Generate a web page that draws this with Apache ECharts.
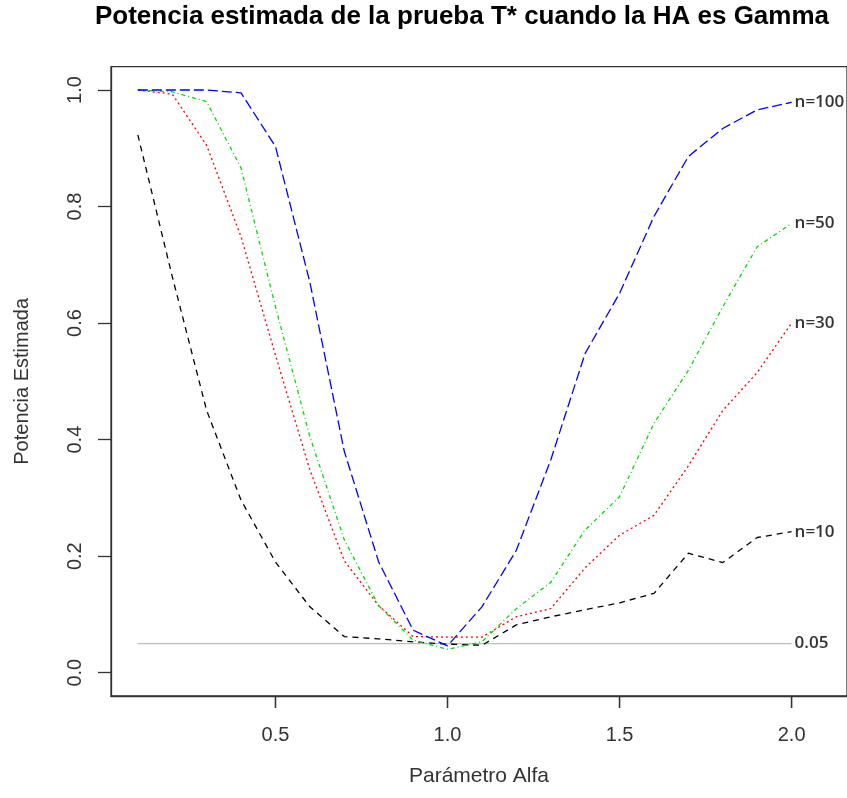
<!DOCTYPE html>
<html>
<head>
<meta charset="utf-8">
<script src="https://cdn.jsdelivr.net/npm/echarts@6/dist/echarts.min.js"></script>
<style>html,body{margin:0;padding:0;background:#fff}#c{width:847px;height:798px}</style>
</head>
<body>
<div id="c"></div>
<script>
const alpha = [0.1,0.2,0.3,0.4,0.5,0.6,0.7,0.8,0.9,1.0,1.1,1.2,1.3,1.4,1.5,1.6,1.7,1.8,1.9,2.0];
const n10  = [0.923,0.68,0.45,0.296,0.19,0.113,0.062,0.058,0.053,0.049,0.047,0.082,0.096,0.108,0.12,0.136,0.205,0.189,0.232,0.242];
const n30  = [1.0,0.993,0.905,0.748,0.545,0.348,0.192,0.115,0.062,0.061,0.061,0.096,0.11,0.18,0.236,0.27,0.355,0.45,0.515,0.60];
const n50  = [1.0,0.997,0.98,0.866,0.628,0.405,0.228,0.115,0.056,0.04,0.053,0.11,0.155,0.245,0.302,0.428,0.519,0.628,0.731,0.771];
const n100 = [1.0,1.0,1.0,0.995,0.903,0.67,0.38,0.19,0.073,0.046,0.113,0.21,0.365,0.548,0.651,0.783,0.886,0.934,0.966,0.979];
const refLevel = 0.05;
const xTicks = [0.5,1.0,1.5,2.0];
const yTicks = [0.0,0.2,0.4,0.6,0.8,1.0];
const seriesNames = ['n=10','n=30','n=50','n=100'];
const Y_MIN = -0.04, Y_MAX = 1.04;

const chart = echarts.init(document.getElementById('c'), null, {renderer:'canvas'});
const pairs = v => alpha.map((a,i)=>[a,v[i]]);
const lblFont = {fontFamily:'Open Sans', fontSize:17, fontWeight:600, color:'#333'};
function mk(name, vals, color, dash){
  return {
    name:name, type:'line', data:pairs(vals), symbol:'none', silent:true, animation:false,
    lineStyle:{color:color, width:1.3, type:dash},
    endLabel:{show:true, formatter:name, distance:3, ...lblFont}
  };
}
const option = {
  animation:false,
  grid:{left:111, top:66.7, bottom:102, right:-2, show:true, borderColor:'#333', borderWidth:1.3},
  xAxis:{
    type:'value', min:0.022, max:2.161,
    axisLine:{show:true, onZero:false, lineStyle:{color:'#333', width:1.3}},
    axisTick:{show:true, inside:false, length:12, lineStyle:{color:'#333', width:1.3}, customValues:xTicks},
    axisLabel:{show:true, margin:29, customValues:xTicks, formatter:v=>v.toFixed(1), fontFamily:'Liberation Sans', fontSize:20, color:'#333'},
    splitLine:{show:false},
    name:'Parámetro Alfa', nameLocation:'middle', nameGap:70,
    nameTextStyle:{fontFamily:'Liberation Sans', fontSize:21, color:'#333'}
  },
  yAxis:{
    type:'value', min:Y_MIN, max:Y_MAX,
    axisLine:{show:true, onZero:false, lineStyle:{color:'#333', width:1.3}},
    axisTick:{show:true, inside:false, length:13, lineStyle:{color:'#333', width:1.3}, customValues:yTicks},
    axisLabel:{show:true, margin:26, rotate:90, customValues:yTicks, formatter:v=>v.toFixed(1), fontFamily:'Liberation Sans', fontSize:20, color:'#333'},
    splitLine:{show:false},
    name:'Potencia Estimada', nameLocation:'middle', nameGap:79,
    nameTextStyle:{fontFamily:'Liberation Sans', fontSize:20, color:'#333'}
  },
  graphic:[{
    type:'text', x:462, y:4,
    style:{text:'Potencia estimada de la prueba T* cuando la HA es Gamma', textAlign:'center', textVerticalAlign:'top', fontFamily:'Liberation Sans', fontWeight:'bold', fontSize:26, fill:'#000'}
  }],
  series:[
    {name:'ref', type:'line', data:[[alpha[0],refLevel],[alpha[alpha.length-1],refLevel]], symbol:'none', silent:true,
     lineStyle:{color:'#bdbdbd', width:1.3, type:'solid'},
     endLabel:{show:true, formatter:'0.05', distance:3, ...lblFont}},
    mk(seriesNames[0], n10, '#000000', [6,5]),
    mk(seriesNames[1], n30, '#ff0000', [2,3]),
    mk(seriesNames[2], n50, '#00dd00', [4,3,1,3]),
    mk(seriesNames[3], n100, '#0000ff', [10,4]),
    {
      name:'xticks', type:'custom', silent:true, clip:false, z:10,
      data:xTicks.map(v=>[v, Y_MIN]),
      encode:{x:0, y:1},
      renderItem:function(params, api){
        const p = api.coord([api.value(0), api.value(1)]);
        return {type:'line', shape:{x1:p[0], y1:p[1], x2:p[0], y2:p[1]+12}, style:{stroke:'#333', lineWidth:1.3}};
      }
    }
  ]
};
chart.setOption(option);
</script>
</body>
</html>
